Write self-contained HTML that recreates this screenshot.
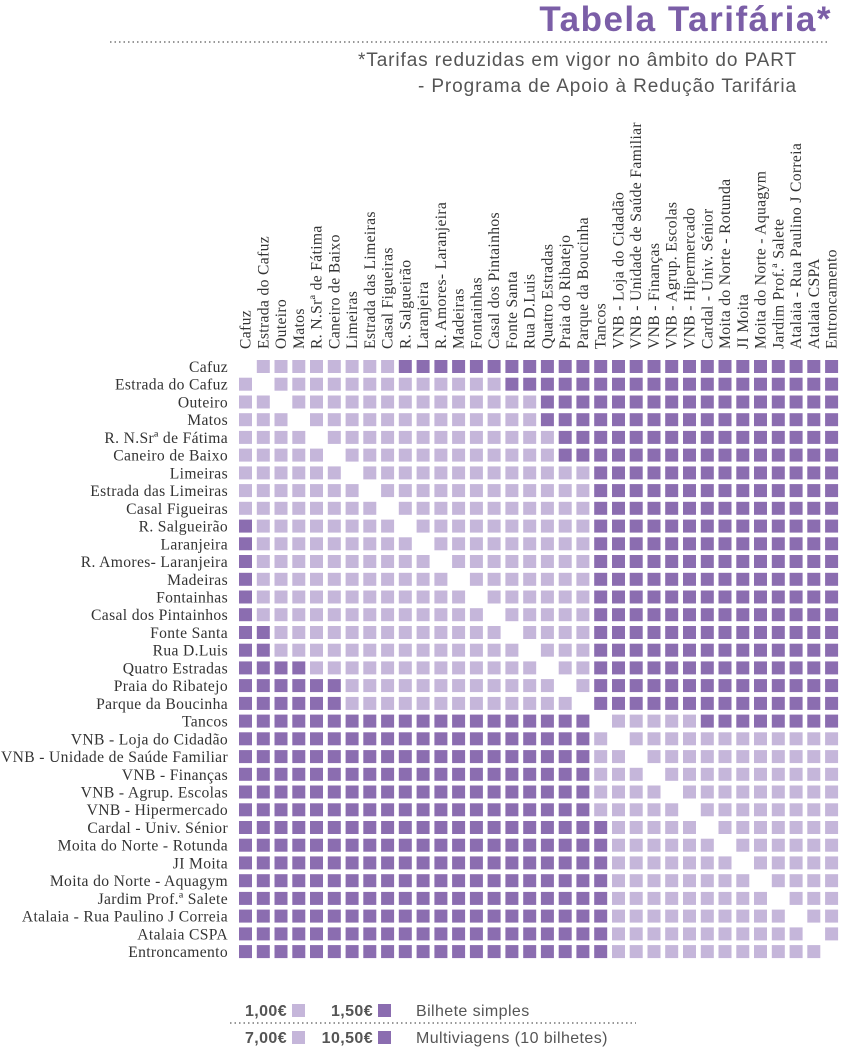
<!DOCTYPE html>
<html><head><meta charset="utf-8"><style>
body{margin:0;background:#fff;}
svg{display:block;}
.lab{font-family:"Liberation Serif",serif;font-size:15.6px;fill:#333;letter-spacing:0.35px;}
.leg{font-family:"Liberation Sans",sans-serif;font-size:16px;fill:#555;letter-spacing:0.4px;}
</style></head><body>
<svg width="843" height="1049" viewBox="0 0 843 1049" xmlns="http://www.w3.org/2000/svg">
<text x="832" y="31" text-anchor="end" font-family="Liberation Sans, sans-serif" font-weight="bold" font-size="35" letter-spacing="1.5" fill="#7b5ea7">Tabela Tarifária*</text>
<line x1="110" y1="42" x2="830" y2="42" stroke="#777" stroke-width="1.5" stroke-dasharray="1.5,3"/>
<text x="797" y="66" text-anchor="end" font-family="Liberation Sans, sans-serif" font-size="19" letter-spacing="0.9" fill="#555">*Tarifas reduzidas em vigor no âmbito do PART</text>
<text x="797" y="92" text-anchor="end" font-family="Liberation Sans, sans-serif" font-size="19" letter-spacing="0.9" fill="#555">- Programa de Apoio à Redução Tarifária</text>

<g class="lab" text-anchor="end" id="rows">
<text x="228" y="372">Cafuz</text>
<text x="228" y="389.7">Estrada do Cafuz</text>
<text x="228" y="407.5">Outeiro</text>
<text x="228" y="425.2">Matos</text>
<text x="228" y="442.9">R. N.Srª de Fátima</text>
<text x="228" y="460.7">Caneiro de Baixo</text>
<text x="228" y="478.4">Limeiras</text>
<text x="228" y="496.1">Estrada das Limeiras</text>
<text x="228" y="513.8">Casal Figueiras</text>
<text x="228" y="531.6">R. Salgueirão</text>
<text x="228" y="549.3">Laranjeira</text>
<text x="228" y="567">R. Amores- Laranjeira</text>
<text x="228" y="584.8">Madeiras</text>
<text x="228" y="602.5">Fontainhas</text>
<text x="228" y="620.2">Casal dos Pintainhos</text>
<text x="228" y="637.9">Fonte Santa</text>
<text x="228" y="655.7">Rua D.Luis</text>
<text x="228" y="673.4">Quatro Estradas</text>
<text x="228" y="691.1">Praia do Ribatejo</text>
<text x="228" y="708.9">Parque da Boucinha</text>
<text x="228" y="726.6">Tancos</text>
<text x="228" y="744.3">VNB - Loja do Cidadão</text>
<text x="228" y="762">VNB - Unidade de Saúde Familiar</text>
<text x="228" y="779.8">VNB - Finanças</text>
<text x="228" y="797.5">VNB - Agrup. Escolas</text>
<text x="228" y="815.2">VNB - Hipermercado</text>
<text x="228" y="833">Cardal - Univ. Sénior</text>
<text x="228" y="850.7">Moita do Norte - Rotunda</text>
<text x="228" y="868.4">JI Moita</text>
<text x="228" y="886.1">Moita do Norte - Aquagym</text>
<text x="228" y="903.9">Jardim Prof.ª Salete</text>
<text x="228" y="921.6">Atalaia - Rua Paulino J Correia</text>
<text x="228" y="939.3">Atalaia CSPA</text>
<text x="228" y="957.1">Entroncamento</text>
</g>

<g class="lab">
<text transform="translate(250.5,349) rotate(-90)">Cafuz</text>
<text transform="translate(268.3,349) rotate(-90)">Estrada do Cafuz</text>
<text transform="translate(286,349) rotate(-90)">Outeiro</text>
<text transform="translate(303.8,349) rotate(-90)">Matos</text>
<text transform="translate(321.5,349) rotate(-90)">R. N.Srª de Fátima</text>
<text transform="translate(339.3,349) rotate(-90)">Caneiro de Baixo</text>
<text transform="translate(357.1,349) rotate(-90)">Limeiras</text>
<text transform="translate(374.8,349) rotate(-90)">Estrada das Limeiras</text>
<text transform="translate(392.6,349) rotate(-90)">Casal Figueiras</text>
<text transform="translate(410.3,349) rotate(-90)">R. Salgueirão</text>
<text transform="translate(428.1,349) rotate(-90)">Laranjeira</text>
<text transform="translate(445.9,349) rotate(-90)">R. Amores- Laranjeira</text>
<text transform="translate(463.6,349) rotate(-90)">Madeiras</text>
<text transform="translate(481.4,349) rotate(-90)">Fontainhas</text>
<text transform="translate(499.1,349) rotate(-90)">Casal dos Pintainhos</text>
<text transform="translate(516.9,349) rotate(-90)">Fonte Santa</text>
<text transform="translate(534.7,349) rotate(-90)">Rua D.Luis</text>
<text transform="translate(552.4,349) rotate(-90)">Quatro Estradas</text>
<text transform="translate(570.2,349) rotate(-90)">Praia do Ribatejo</text>
<text transform="translate(587.9,349) rotate(-90)">Parque da Boucinha</text>
<text transform="translate(605.7,349) rotate(-90)">Tancos</text>
<text transform="translate(623.5,349) rotate(-90)">VNB - Loja do Cidadão</text>
<text transform="translate(641.2,349) rotate(-90)">VNB - Unidade de Saúde Familiar</text>
<text transform="translate(659,349) rotate(-90)">VNB - Finanças</text>
<text transform="translate(676.7,349) rotate(-90)">VNB - Agrup. Escolas</text>
<text transform="translate(694.5,349) rotate(-90)">VNB - Hipermercado</text>
<text transform="translate(712.3,349) rotate(-90)">Cardal - Univ. Sénior</text>
<text transform="translate(730,349) rotate(-90)">Moita do Norte - Rotunda</text>
<text transform="translate(747.8,349) rotate(-90)">JI Moita</text>
<text transform="translate(765.5,349) rotate(-90)">Moita do Norte - Aquagym</text>
<text transform="translate(783.3,349) rotate(-90)">Jardim Prof.ª Salete</text>
<text transform="translate(801.1,349) rotate(-90)">Atalaia - Rua Paulino J Correia</text>
<text transform="translate(818.8,349) rotate(-90)">Atalaia CSPA</text>
<text transform="translate(836.6,349) rotate(-90)">Entroncamento</text>
</g>

<g id="grid"></g>

<line x1="230" y1="1023" x2="636" y2="1023" stroke="#777" stroke-width="1.5" stroke-dasharray="1.5,3"/>
<g class="leg">
<text x="287" y="1016" text-anchor="end" font-weight="bold">1,00€</text>
<rect x="292" y="1004" width="13" height="13" fill="#c5b6da"/>
<text x="373" y="1016" text-anchor="end" font-weight="bold">1,50€</text>
<rect x="378" y="1004" width="13" height="13" fill="#8b6db0"/>
<text x="416" y="1016">Bilhete simples</text>
<text x="287" y="1043" text-anchor="end" font-weight="bold">7,00€</text>
<rect x="292" y="1031" width="13" height="13" fill="#c5b6da"/>
<text x="373" y="1043" text-anchor="end" font-weight="bold">10,50€</text>
<rect x="378" y="1031" width="13" height="13" fill="#8b6db0"/>
<text x="416" y="1043">Multiviagens (10 bilhetes)</text>
</g>
</svg>
<script>
(function(){
var g=document.getElementById('grid');var ns='http://www.w3.org/2000/svg';
function th(i){if(i==0)return 9;if(i==1)return 15;if(i<=3)return 17;if(i<=5)return 18;if(i<=19)return 20;if(i==20)return 26;return 99;}
for(var i=0;i<34;i++)for(var j=0;j<34;j++){if(i==j)continue;
var a=Math.min(i,j),b=Math.max(i,j);var dark=b>=th(a);
var r=document.createElementNS(ns,'rect');
r.setAttribute('x',(239+j*17.76).toFixed(1));r.setAttribute('y',(360+i*17.73).toFixed(1));
r.setAttribute('width',13);r.setAttribute('height',13);
r.setAttribute('fill',dark?'#8b6db0':'#c5b6da');g.appendChild(r);}
})();
</script>
</body></html>
